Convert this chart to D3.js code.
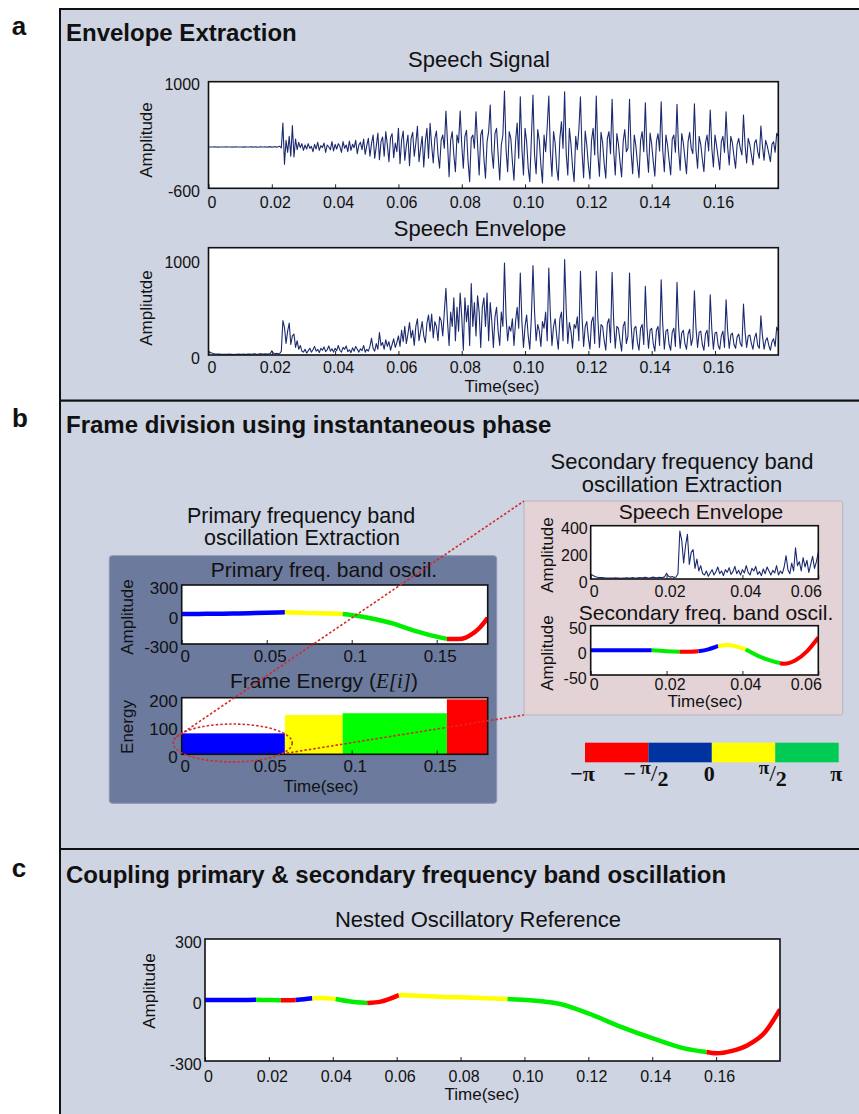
<!DOCTYPE html>
<html>
<head>
<meta charset="utf-8">
<script src="https://cdn.jsdelivr.net/npm/d3@7"></script>
<style>
  body { margin: 0; background: #fff; }
  svg text { font-family: "Liberation Sans", Arial, sans-serif; fill: #111; }
</style>
</head>
<body>
<div id="fig"></div>
<script>
/* ---- data ---- */
const dt = 0.0005; // sample step of the speech traces (sec)

const speechSignal = [
  20,21,19,20,22,20,18,20,21,19, 20,22,19,20,21,18,20,22,20,19,
  21,20,18,22,20,19,21,23,18,20, 22,17,21,24,19,20,23,16,22,25,
  18,21,26,15,24,
  30,5,380,-240,120,-60,180,-120,340,-130,140,-20,90,10,70,
  -30,50,-10,70,0,30,-50,60,-10,90,-30,40,10,80,-60,50,20,-20,100,-40,
  60,-10,70,30,-60,100,0,50,-50,110,
  -30,60,10,120,-80,50,90,-20,140,-90,
  40,150,-120,70,200,-150,30,230,-170,100,
  170,-120,250,50,-200,160,220,-140,80,-50,
  300,-230,120,260,-180,40,200,-260,150,240,
  -120,80,330,-200,0,180,-280,100,300,-150,
  375,40,-220,150,260,-90,-300,120,200,0,
  560,100,-425,120,250,-100,-350,200,80,560,
  50,-300,180,270,-200,-500,150,200,0,550,
  60,-400,200,280,-150,-450,100,250,650,-50,
  -300,220,300,-100,-475,50,200,860,-20,-350,
  250,150,-200,-480,100,380,-150,775,0,-400,
  300,100,-300,-500,150,800,-100,-380,280,120,
  -250,-520,200,-50,320,785,-50,-420,250,80,
  -300,-480,150,400,0,850,-80,-400,300,60,
  -280,-500,180,-20,280,775,-60,-440,260,50,
  -250,-460,120,300,-100,785,-80,-420,240,80,
  -230,-450,150,250,-80,735,-40,-400,220,60,
  -200,-430,100,280,-50,0,735,-60,-380,200,
  40,-220,-440,120,250,-50,685,-50,-360,230,
  60,-200,-420,100,220,-40,700,-30,-350,200,
  50,-180,-400,140,200,-60,660,-20,-330,220,
  80,-150,-380,100,240,0,-80,670,-30,-300,
  180,60,-160,-350,80,200,-40,575,0,-280,
  200,40,-140,-320,100,180,-60,550,20,-250,
  180,80,-120,-300,60,150,0,-100,500,50,
  -220,150,60,-100,-250,80,130,-50,-150,335,
  30,-180,120,40,-80,-200,60,100,-60,225,
  180
];

const speechEnvelope = [
  35,28,20,15,12,10,10,9,8,8, 8,7,8,9,7,8,6,7,8,9,
  7,8,10,8,7,9,11,8,10,12, 9,8,11,14,10,9,
  13,11,12,16,43,20,14,18,12,
  15,40,360,290,120,250,335,110,200,220,80,150,60,100,40,
  30,60,20,45,70,30,55,90,40,60,25,70,50,85,35,55,95,40,65,30,
  70,45,100,50,30,80,60,95,35,55,25,75,40,90,60,30,65,45,100,30,
  60,40,90,175,70,40,120,60,235,100,
  130,60,160,90,140,50,110,170,80,130,
  200,90,260,140,300,120,220,340,180,260,
  100,300,380,150,250,350,200,130,330,420,
  250,430,180,350,300,150,400,360,200,450,
  700,350,100,450,300,600,150,500,250,650,
  400,50,600,350,520,100,750,300,550,200,
  620,450,80,500,600,300,650,150,550,350,
  80,400,500,250,100,450,300,965,400,150,
  300,250,380,100,350,500,280,860,350,80,
  300,420,200,60,400,937,450,150,320,250,
  90,350,280,450,150,912,420,100,300,380,
  200,60,380,450,150,1000,480,120,340,250,
  70,320,280,400,150,877,400,90,300,350,
  180,60,350,400,120,877,380,80,320,300,
  150,50,330,380,130,866,350,70,300,280,
  150,40,300,350,120,200,860,320,60,280,
  300,130,50,280,320,110,719,300,70,260,
  280,120,40,260,300,100,789,320,60,250,
  270,110,50,240,280,90,761,300,70,230,
  260,120,60,220,270,100,180,674,280,80,
  240,250,110,50,220,260,90,632,270,60,
  230,240,100,60,200,250,80,579,250,70,
  210,230,110,70,190,220,120,90,533,240,
  80,200,210,120,60,180,230,100,70,410,
  200,60,150,180,100,50,140,170,90,292,
  250
];

// primary frequency band oscillation (panel b, left)
const primaryTime = [0, 0.01, 0.02, 0.03, 0.04, 0.05, 0.0607, 0.07, 0.08, 0.0947, 0.104, 0.114, 0.124, 0.134, 0.1445, 0.156, 0.16, 0.165, 0.17, 0.175, 0.18];
const primaryAmp  = [5, 6, 8, 10, 13, 17, 22, 18, 13, 6, -15, -48, -90, -148, -202, -248, -250, -246, -208, -140, -35];
const primarySegStart = [0, 0.0607, 0.0947, 0.156];
const primarySegEnd   = [0.0607, 0.0947, 0.156, 0.18];
const primarySegPhase = ["blue", "yellow", "green", "red"];

// frame energy E[i]
const energyValue = [74, 139, 145, 194];

// secondary frequency band oscillation (panel b, right)
const secondaryTime = [0, 0.008, 0.0161, 0.02, 0.0234, 0.026, 0.0284, 0.031, 0.0336, 0.036, 0.0409, 0.045, 0.0499, 0.051, 0.054, 0.057, 0.06];
const secondaryAmp  = [0, 0, 0, -2, -3, -3, -2, 2, 9, 11, 2, -14, -26, -27, -20, -2, 26];
const secondarySegStart = [0, 0.0161, 0.0234, 0.0284, 0.0336, 0.0409, 0.0499];
const secondarySegEnd   = [0.0161, 0.0234, 0.0284, 0.0336, 0.0409, 0.0499, 0.06];
const secondarySegPhase = ["blue", "green", "red", "blue", "yellow", "green", "red"];

// nested oscillatory reference (panel c)
const nestedTime = [0, 0.008, 0.016, 0.02, 0.0237, 0.026, 0.0284, 0.031, 0.0336, 0.036, 0.0409, 0.045, 0.0508, 0.055, 0.0607, 0.07, 0.08, 0.0947, 0.11, 0.12, 0.13, 0.14, 0.15, 0.157, 0.16, 0.165, 0.17, 0.175, 0.18];
const nestedAmp  = [0, 0, 1, 0, -1, -1, 0, 4, 9, 10, 5, -6, -15, -8, 24, 18, 13, 5, -16, -66, -131, -188, -238, -256, -262, -250, -221, -164, -46];
const nestedSegStart = [0, 0.016, 0.0237, 0.0284, 0.0336, 0.0409, 0.0508, 0.0607, 0.0947, 0.157];
const nestedSegEnd   = [0.016, 0.0237, 0.0284, 0.0336, 0.0409, 0.0508, 0.0607, 0.0947, 0.157, 0.18];
const nestedSegPhase = ["blue", "green", "red", "blue", "yellow", "green", "red", "yellow", "green", "red"];

// phase colour bar
const phaseEdges = [-Math.PI, -Math.PI / 2, 0, Math.PI / 2, Math.PI];
const colorbarColors = ["#ff0000", "#0033a0", "#ffff00", "#00cc55"];

// tick values
const speechTicks = [0, 0.02, 0.04, 0.06, 0.08, 0.10, 0.12, 0.14, 0.16];
const primaryTicks = [0, 0.05, 0.1, 0.15];
const secondaryTicks = [0, 0.02, 0.04, 0.06];

/* ---- drawing ---- */
const W = 859, H = 1114;
const phaseColor = {blue: "#0000ff", yellow: "#ffff00", green: "#00ee00", red: "#ff0000"};
const fmt2 = d => d === 0 ? "0" : d.toFixed(2);
const plain = d => String(d);

const svg = d3.select("#fig").append("svg")
    .attr("width", W).attr("height", H)
    .attr("viewBox", [0, 0, W, H]);

function txt(parent, x, y, s, o = {}) {
  return parent.append("text")
      .attr("x", x).attr("y", y)
      .attr("text-anchor", o.anchor || "middle")
      .attr("font-size", o.size || 16)
      .attr("font-weight", o.bold ? "bold" : null)
      .attr("transform", o.rotate ? `rotate(-90,${x},${y})` : null)
      .text(s);
}

let clipCount = 0;
function makePlot(b) {
  const x = d3.scaleLinear().domain(b.xDomain).range([b.left, b.right]);
  const y = d3.scaleLinear().domain(b.yDomain).range([b.bottom, b.top]);
  const g = svg.append("g");
  const id = "clip" + (++clipCount);
  g.append("clipPath").attr("id", id).append("rect")
      .attr("x", b.left).attr("y", b.top)
      .attr("width", b.right - b.left).attr("height", b.bottom - b.top);
  g.append("rect")
      .attr("x", b.left).attr("y", b.top)
      .attr("width", b.right - b.left).attr("height", b.bottom - b.top)
      .attr("fill", "#fff");
  const layer = g.append("g").attr("clip-path", `url(#${id})`);
  const top = g.append("g");

  const xa = top.append("g")
      .attr("transform", `translate(0,${b.bottom})`)
      .call(d3.axisBottom(x).tickValues(b.xTicks).tickFormat(b.xFmt).tickSize(-4).tickPadding(b.xPad));
  xa.select(".domain").remove();
  xa.attr("font-family", null).attr("font-size", b.fs);
  xa.selectAll("text").attr("dx", 3);
  xa.selectAll("line").attr("stroke", "#222");
  if (b.lastEnd) xa.selectAll("text").filter((d, i, n) => i === n.length - 1)
      .attr("text-anchor", "end").attr("dx", 3);

  const ya = top.append("g")
      .attr("transform", `translate(${b.left},0)`)
      .call(d3.axisLeft(y).tickValues(b.yTicks).tickFormat(plain).tickSize(0).tickPadding(b.yPad));
  ya.select(".domain").remove();
  ya.attr("font-family", null).attr("font-size", b.fs);
  ya.selectAll("text").attr("dy", "0.5em");

  top.append("rect")
      .attr("x", b.left).attr("y", b.top)
      .attr("width", b.right - b.left).attr("height", b.bottom - b.top)
      .attr("fill", "none").attr("stroke", "#111").attr("stroke-width", 1.6);
  return {x, y, layer, top};
}

function phaseLine(p, times, amps, segStart, segEnd, segPhase, width) {
  const pts = times.map((t, i) => [t, amps[i]]);
  const line = d3.line().x(d => p.x(d[0])).y(d => p.y(d[1])).curve(d3.curveMonotoneX);
  segPhase.forEach((ph, k) => {
    const seg = pts.filter(d => d[0] >= segStart[k] - 1e-9 && d[0] <= segEnd[k] + 1e-9);
    p.layer.append("path").datum(seg)
        .attr("d", line)
        .attr("fill", "none")
        .attr("stroke", phaseColor[ph])
        .attr("stroke-width", width);
  });
}

function speechLine(p, values) {
  p.layer.append("path").datum(values)
      .attr("d", d3.line().x((d, i) => p.x(i * dt)).y(d => p.y(d)))
      .attr("fill", "none")
      .attr("stroke", "#1b2a6e")
      .attr("stroke-width", 1.1)
      .attr("stroke-linejoin", "round");
}

// panel frames
const panelBg = "#cfd4e2";
[[9, 400.7], [400.7, 849], [849, 1130]].forEach(([t, b]) => {
  svg.append("rect").attr("x", 60).attr("y", t).attr("width", 830).attr("height", b - t)
      .attr("fill", panelBg).attr("stroke", "#111").attr("stroke-width", 2);
});
txt(svg, 19, 35, "a", {size: 26, bold: true});
txt(svg, 20, 427, "b", {size: 26, bold: true});
txt(svg, 19, 877, "c", {size: 26, bold: true});
txt(svg, 66, 41, "Envelope Extraction", {size: 24, bold: true, anchor: "start"});
txt(svg, 66, 433, "Frame division using instantaneous phase", {size: 24, bold: true, anchor: "start"});
txt(svg, 66, 883, "Coupling primary & secondary frequency band oscillation", {size: 24, bold: true, anchor: "start"});

/* ---- panel a ---- */
const sig = makePlot({left: 208.5, right: 778.3, top: 81.7, bottom: 188.3,
  xDomain: [0, 0.18], yDomain: [-600, 1000], xTicks: speechTicks, xFmt: fmt2,
  yTicks: [-600, 1000], xPad: 8.5, yPad: 8.5, fs: 16});
speechLine(sig, speechSignal);
txt(svg, 479, 67, "Speech Signal", {size: 22});
txt(svg, 152, 140, "Amplitude", {size: 17, rotate: true});

const env = makePlot({left: 208.5, right: 778.3, top: 247.7, bottom: 355,
  xDomain: [0, 0.18], yDomain: [0, 1125], xTicks: speechTicks, xFmt: fmt2,
  yTicks: [0, 1000], xPad: 7, yPad: 8.5, fs: 16});
speechLine(env, speechEnvelope);
txt(svg, 480, 236, "Speech Envelope", {size: 22});
txt(svg, 152, 308, "Ampliutde", {size: 17, rotate: true});
txt(svg, 502, 392, "Time(sec)", {size: 17});

/* ---- panel b ---- */
txt(svg, 301, 522.5, "Primary frequency band", {size: 21.5});
txt(svg, 302, 545, "oscillation Extraction", {size: 21.5});
svg.append("rect").attr("x", 109.3).attr("y", 555.7).attr("width", 387.4).attr("height", 247.6)
    .attr("rx", 3).attr("fill", "#6b7a9d").attr("stroke", "#8a96b3").attr("stroke-width", 1);

const prim = makePlot({left: 181.7, right: 487.7, top: 585, bottom: 644,
  xDomain: [0, 0.18], yDomain: [-300, 300], xTicks: primaryTicks, xFmt: d3.format(""),
  yTicks: [-300, 0, 300], xPad: 5.5, yPad: 3.5, fs: 17});
phaseLine(prim, primaryTime, primaryAmp, primarySegStart, primarySegEnd, primarySegPhase, 4.5);
txt(svg, 324, 577, "Primary freq. band oscil.", {size: 21});
txt(svg, 133, 617, "Amplitude", {size: 17, rotate: true});

const en = makePlot({left: 181.7, right: 487.7, top: 697.7, bottom: 754.3,
  xDomain: [0, 0.18], yDomain: [0, 200], xTicks: primaryTicks, xFmt: d3.format(""),
  yTicks: [0, 100, 200], xPad: 5.5, yPad: 4, fs: 17});
en.layer.selectAll("rect.bar").data(energyValue).join("rect")
    .attr("class", "bar")
    .attr("x", (d, i) => en.x(primarySegStart[i]))
    .attr("y", d => en.y(d))
    .attr("width", (d, i) => en.x(primarySegEnd[i]) - en.x(primarySegStart[i]))
    .attr("height", d => en.y(0) - en.y(d))
    .attr("fill", (d, i) => primarySegPhase[i] === "green" ? "#00ff00" : phaseColor[primarySegPhase[i]]);
const et = txt(svg, 324, 688, "", {size: 21});
et.append("tspan").text("Frame Energy (");
et.append("tspan").attr("font-family", "Liberation Serif").attr("font-style", "italic").text("E[i]");
et.append("tspan").text(")");
txt(svg, 133, 727, "Energy", {size: 17, rotate: true});
txt(svg, 321, 792, "Time(sec)", {size: 17});

txt(svg, 682, 469, "Secondary frequency band", {size: 22});
txt(svg, 682, 491.5, "oscillation Extraction", {size: 22});
svg.append("rect").attr("x", 524).attr("y", 501).attr("width", 318.7).attr("height", 214)
    .attr("rx", 2).attr("fill", "#e4d3d6").attr("stroke", "#b9b3bb").attr("stroke-width", 1);

const penv = makePlot({left: 590.7, right: 818.3, top: 525.7, bottom: 579,
  xDomain: [0, 0.06], yDomain: [0, 400], xTicks: secondaryTicks, xFmt: d3.format(""),
  yTicks: [0, 200, 400], xPad: 6.3, yPad: 3, fs: 16, lastEnd: true});
speechLine(penv, speechEnvelope.slice(0, 124));
txt(svg, 701, 519, "Speech Envelope", {size: 21});
txt(svg, 553, 555, "Amplitude", {size: 17, rotate: true});

const sec = makePlot({left: 590.7, right: 818.3, top: 625.7, bottom: 675,
  xDomain: [0, 0.06], yDomain: [-50, 50], xTicks: secondaryTicks, xFmt: d3.format(""),
  yTicks: [-50, 0, 50], xPad: 3.6, yPad: 4, fs: 16, lastEnd: true});
phaseLine(sec, secondaryTime, secondaryAmp, secondarySegStart, secondarySegEnd, secondarySegPhase, 4);
txt(svg, 706, 620, "Secondary freq. band oscil.", {size: 21});
txt(svg, 553, 653, "Amplitude", {size: 17, rotate: true});
txt(svg, 705, 707, "Time(sec)", {size: 17});

// phase colour bar
const cbX = d3.scaleLinear().domain([-Math.PI, Math.PI]).range([585, 838.7]);
svg.append("g").selectAll("rect").data(colorbarColors).join("rect")
    .attr("x", (d, i) => cbX(phaseEdges[i]))
    .attr("y", 742.7)
    .attr("width", (d, i) => cbX(phaseEdges[i + 1]) - cbX(phaseEdges[i]))
    .attr("height", 19.6)
    .attr("fill", d => d);
const cbLab = svg.append("g").attr("font-weight", "bold");
phaseEdges.forEach((v, i) => {
  const t = cbLab.append("text").attr("x", cbX(v) - 2.5).attr("y", 781).attr("text-anchor", "middle")
      .style("font-family", "'Liberation Serif', serif").attr("font-size", 22);
  const half = Math.abs(v) === Math.PI / 2;
  const sign = v < 0 ? "\u2212" : "";
  if (v === 0) t.text("0");
  else if (!half) t.text(sign + "\u03c0");
  else {
    if (sign) t.append("tspan").text(sign + "\u2009");
    t.append("tspan").attr("dy", -7).attr("font-size", 19).text("\u03c0");
    t.append("tspan").attr("dy", 7).attr("font-weight", "normal").attr("font-size", 24).text("/");
    t.append("tspan").attr("dy", 5).text("2");
  }
});

// dashed zoom annotation
const ann = svg.append("g").attr("fill", "none").attr("stroke", "#d42a2a")
    .attr("stroke-width", 1.6).attr("stroke-dasharray", "2.5,2");
ann.append("ellipse")
    .attr("cx", en.x(0.03)).attr("cy", en.y(40))
    .attr("rx", en.x(0.035) - en.x(0)).attr("ry", en.y(0) - en.y(67));
ann.append("line").attr("x1", en.x(-0.003)).attr("y1", en.y(61)).attr("x2", 524).attr("y2", 501);
ann.append("line").attr("x1", en.x(0.0617)).attr("y1", en.y(4)).attr("x2", 524).attr("y2", 715);

/* ---- panel c ---- */
const nest = makePlot({left: 205, right: 780, top: 939, bottom: 1061,
  xDomain: [0, 0.18], yDomain: [-300, 300], xTicks: speechTicks, xFmt: fmt2,
  yTicks: [-300, 0, 300], xPad: 9.3, yPad: 3.3, fs: 16});
phaseLine(nest, nestedTime, nestedAmp, nestedSegStart, nestedSegEnd, nestedSegPhase, 4.5);
txt(svg, 478, 927, "Nested Oscillatory Reference", {size: 22});
txt(svg, 155, 991, "Amplitude", {size: 17, rotate: true});
txt(svg, 482, 1100, "Time(sec)", {size: 17});
</script>
</body>
</html>
